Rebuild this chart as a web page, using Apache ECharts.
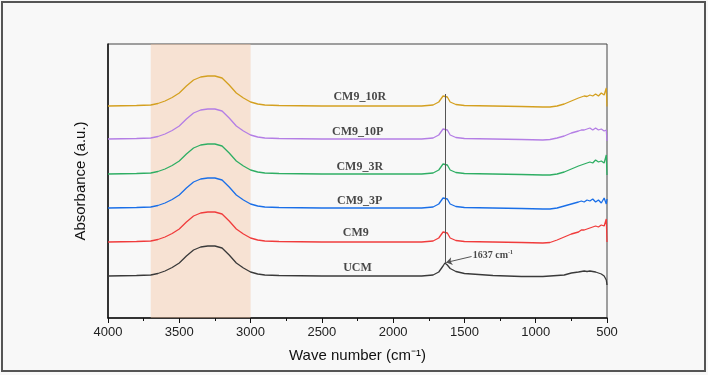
<!DOCTYPE html>
<html>
<head>
<meta charset="utf-8">
<script src="https://cdn.jsdelivr.net/npm/echarts@6/dist/echarts.min.js"></script>
<style>
  html, body { margin: 0; padding: 0; background: #f8f8f8; }
  #chart { width: 708px; height: 375px; }
</style>
</head>
<body>
<div id="chart"></div>
<script>
// wave numbers shared by all spectra (cm-1)
var waveNumbers = [4000, 3800, 3700, 3650, 3600, 3550, 3500, 3450, 3400, 3350, 3300, 3250, 3200, 3150, 3100, 3050, 3000, 2950, 2900, 2800,
  2500, 2200, 2000, 1800, 1720, 1680, 1650, 1637, 1620, 1600, 1560, 1500,
  1300, 1100, 950, 900, 850, 800, 750, 700, 680, 660, 640, 620, 600, 580, 560, 540, 520, 505, 500];

// absorbance, stacked with offsets as in the figure
var cm9_10R = [2.12, 2.125, 2.13, 2.145, 2.17, 2.205, 2.25, 2.32, 2.38, 2.41, 2.42, 2.42, 2.40, 2.33, 2.25, 2.20, 2.16, 2.14, 2.13, 2.125,
  2.12, 2.12, 2.12, 2.12, 2.13, 2.16, 2.22, 2.24, 2.21, 2.16, 2.135, 2.125,
  2.12, 2.115, 2.11, 2.11, 2.12, 2.14, 2.17, 2.20, 2.21, 2.22, 2.215, 2.23, 2.22, 2.24, 2.22, 2.25, 2.23, 2.30, 2.115];
var cm9_10P = [1.79, 1.795, 1.80, 1.815, 1.84, 1.875, 1.92, 1.99, 2.05, 2.08, 2.09, 2.09, 2.07, 2.00, 1.92, 1.87, 1.83, 1.81, 1.80, 1.795,
  1.79, 1.79, 1.79, 1.79, 1.80, 1.83, 1.89, 1.91, 1.88, 1.83, 1.805, 1.795,
  1.79, 1.785, 1.78, 1.785, 1.80, 1.82, 1.85, 1.87, 1.88, 1.88, 1.89, 1.90, 1.88, 1.90, 1.88, 1.89, 1.87, 1.88, 1.77];
var cm9_3R = [1.44, 1.445, 1.45, 1.465, 1.49, 1.525, 1.57, 1.64, 1.70, 1.73, 1.74, 1.74, 1.72, 1.65, 1.57, 1.52, 1.48, 1.46, 1.45, 1.445,
  1.44, 1.44, 1.44, 1.44, 1.45, 1.48, 1.54, 1.56, 1.53, 1.48, 1.455, 1.445,
  1.44, 1.435, 1.43, 1.43, 1.44, 1.46, 1.49, 1.52, 1.53, 1.54, 1.55, 1.56, 1.55, 1.58, 1.56, 1.57, 1.55, 1.63, 1.43];
var cm9_3P = [1.10, 1.105, 1.11, 1.125, 1.15, 1.185, 1.23, 1.30, 1.36, 1.39, 1.40, 1.40, 1.38, 1.31, 1.23, 1.18, 1.14, 1.12, 1.11, 1.105,
  1.10, 1.10, 1.10, 1.10, 1.11, 1.14, 1.20, 1.22, 1.19, 1.14, 1.115, 1.105,
  1.10, 1.095, 1.09, 1.09, 1.10, 1.12, 1.14, 1.16, 1.17, 1.16, 1.18, 1.17, 1.19, 1.16, 1.18, 1.15, 1.20, 1.14, 1.19];
var cm9 = [0.76, 0.765, 0.77, 0.785, 0.81, 0.845, 0.89, 0.96, 1.02, 1.05, 1.06, 1.06, 1.04, 0.97, 0.89, 0.84, 0.80, 0.78, 0.77, 0.765,
  0.76, 0.76, 0.76, 0.76, 0.77, 0.80, 0.86, 0.88, 0.85, 0.80, 0.775, 0.765,
  0.76, 0.755, 0.75, 0.755, 0.78, 0.81, 0.84, 0.86, 0.88, 0.88, 0.89, 0.90, 0.91, 0.92, 0.91, 0.93, 0.92, 0.99, 0.76];
var ucm = [0.42, 0.425, 0.43, 0.445, 0.47, 0.505, 0.55, 0.62, 0.68, 0.71, 0.72, 0.72, 0.70, 0.63, 0.55, 0.50, 0.46, 0.44, 0.43, 0.425,
  0.42, 0.42, 0.42, 0.42, 0.43, 0.46, 0.52, 0.55, 0.53, 0.495, 0.465, 0.445,
  0.425, 0.415, 0.415, 0.42, 0.425, 0.43, 0.45, 0.46, 0.465, 0.47, 0.465, 0.47, 0.465, 0.46, 0.45, 0.44, 0.42, 0.38, 0.33];

var seriesNames = ['UCM', 'CM9', 'CM9_3P', 'CM9_3R', 'CM9_10P', 'CM9_10R'];
var seriesValues = [ucm, cm9, cm9_3P, cm9_3R, cm9_10P, cm9_10R];
var seriesColors = ['#3a3a3a', '#f03c3c', '#1a6fe8', '#2fae64', '#b47ee5', '#d4a020'];

// sample labels placed beside each curve [wave number, y, text]
var sampleLabels = [[2250, 0.497, 'UCM'], [2262, 0.847, 'CM9'], [2234, 1.173, 'CM9_3P'],
  [2234, 1.507, 'CM9_3R'], [2248, 1.857, 'CM9_10P'], [2234, 2.213, 'CM9_10R']];

var bandRange = [3700, 3000];   // O-H stretch shading
var peakWave = 1637;

var chartDom = document.getElementById('chart');
var myChart = echarts.init(chartDom);

function pairs(vals) {
  return waveNumbers.map(function (w, i) { return [w, vals[i]]; });
}

var series = [];

// shaded band, drawn underneath
series.push({
  type: 'line',
  data: [],
  z: 1,
  silent: true,
  markArea: {
    silent: true,
    itemStyle: { color: 'rgba(245,195,160,0.42)' },
    data: [[{ xAxis: bandRange[0] }, { xAxis: bandRange[1] }]]
  }
});

seriesNames.forEach(function (name, i) {
  series.push({
    name: name,
    type: 'line',
    z: 3,
    data: pairs(seriesValues[i]),
    showSymbol: false,
    symbol: 'none',
    lineStyle: { color: seriesColors[i], width: 1.3 },
    itemStyle: { color: seriesColors[i] }
  });
});

var topPeak = cm9_10R[waveNumbers.indexOf(peakWave)];
var bottomPeak = ucm[waveNumbers.indexOf(peakWave)];

// vertical line through the 1637 peaks and arrow
series.push({
  type: 'line',
  data: [],
  z: 4,
  silent: true,
  markLine: {
    silent: true,
    animation: false,
    label: { show: false },
    data: [
      [{ coord: [peakWave, topPeak], symbol: 'none' }, { coord: [peakWave, bottomPeak], symbol: 'none' }],
      [{ coord: [1450, 0.615], symbol: 'none' }, { coord: [1628, bottomPeak + 0.005], symbol: 'arrow', symbolSize: 6 }]
    ],
    lineStyle: { color: '#555', width: 1, type: 'solid' }
  }
});

// sample labels
series.push({
  type: 'scatter',
  z: 5,
  silent: true,
  symbolSize: 1,
  itemStyle: { color: 'transparent' },
  data: sampleLabels,
  label: {
    show: true,
    position: 'inside',
    formatter: function (p) { return p.data[2]; },
    fontFamily: 'Liberation Serif',
    fontWeight: 'bold',
    fontSize: 12,
    color: '#1a1a1a'
  }
});

// peak annotation
series.push({
  type: 'scatter',
  z: 5,
  silent: true,
  symbolSize: 1,
  itemStyle: { color: 'transparent' },
  data: [[1445, 0.63]],
  label: {
    show: true,
    position: 'right',
    distance: 0,
    formatter: '{a|1637 cm}{b|-1}',
    rich: {
      a: { fontFamily: 'Liberation Serif', fontWeight: 'bold', fontSize: 10, color: '#1a1a1a' },
      b: { fontFamily: 'Liberation Serif', fontWeight: 'bold', fontSize: 6, color: '#1a1a1a', padding: [0, 0, 6, 0] }
    }
  }
});

var option = {
  backgroundColor: '#f8f8f8',
  animation: false,
  grid: {
    left: 108,
    right: 101,
    top: 44,
    bottom: 57,
    show: true,
    borderColor: '#444',
    borderWidth: 1,
    backgroundColor: 'transparent'
  },
  xAxis: {
    type: 'value',
    min: 500,
    max: 4000,
    interval: 500,
    inverse: true,
    name: 'Wave number (cm⁻¹)',
    nameLocation: 'middle',
    nameGap: 30,
    nameTextStyle: { fontFamily: 'Liberation Sans', fontSize: 15, color: '#111' },
    axisLine: { show: true, lineStyle: { color: '#111', width: 1.5 } },
    axisTick: { show: true, length: 5, lineStyle: { color: '#111' } },
    minorTick: { show: true, splitNumber: 2, length: 3, lineStyle: { color: '#111' } },
    axisLabel: {
      fontFamily: 'Liberation Sans', fontSize: 13, color: '#222', margin: 8,
      formatter: function (v) { return String(v); }
    },
    splitLine: { show: false }
  },
  yAxis: {
    type: 'value',
    min: 0,
    max: 2.74,
    name: 'Absorbance (a.u.)',
    nameLocation: 'middle',
    nameGap: 20,
    nameTextStyle: { fontFamily: 'Liberation Sans', fontSize: 15, color: '#111' },
    axisLine: { show: true, lineStyle: { color: '#111', width: 1.5 } },
    axisTick: { show: false },
    axisLabel: { show: false },
    splitLine: { show: false }
  },
  graphic: [{
    type: 'rect',
    shape: { x: 2, y: 2, width: 703, height: 369 },
    style: { fill: 'none', stroke: '#555', lineWidth: 2 },
    silent: true
  }],
  series: series
};

option && myChart.setOption(option);
</script>
</body>
</html>
